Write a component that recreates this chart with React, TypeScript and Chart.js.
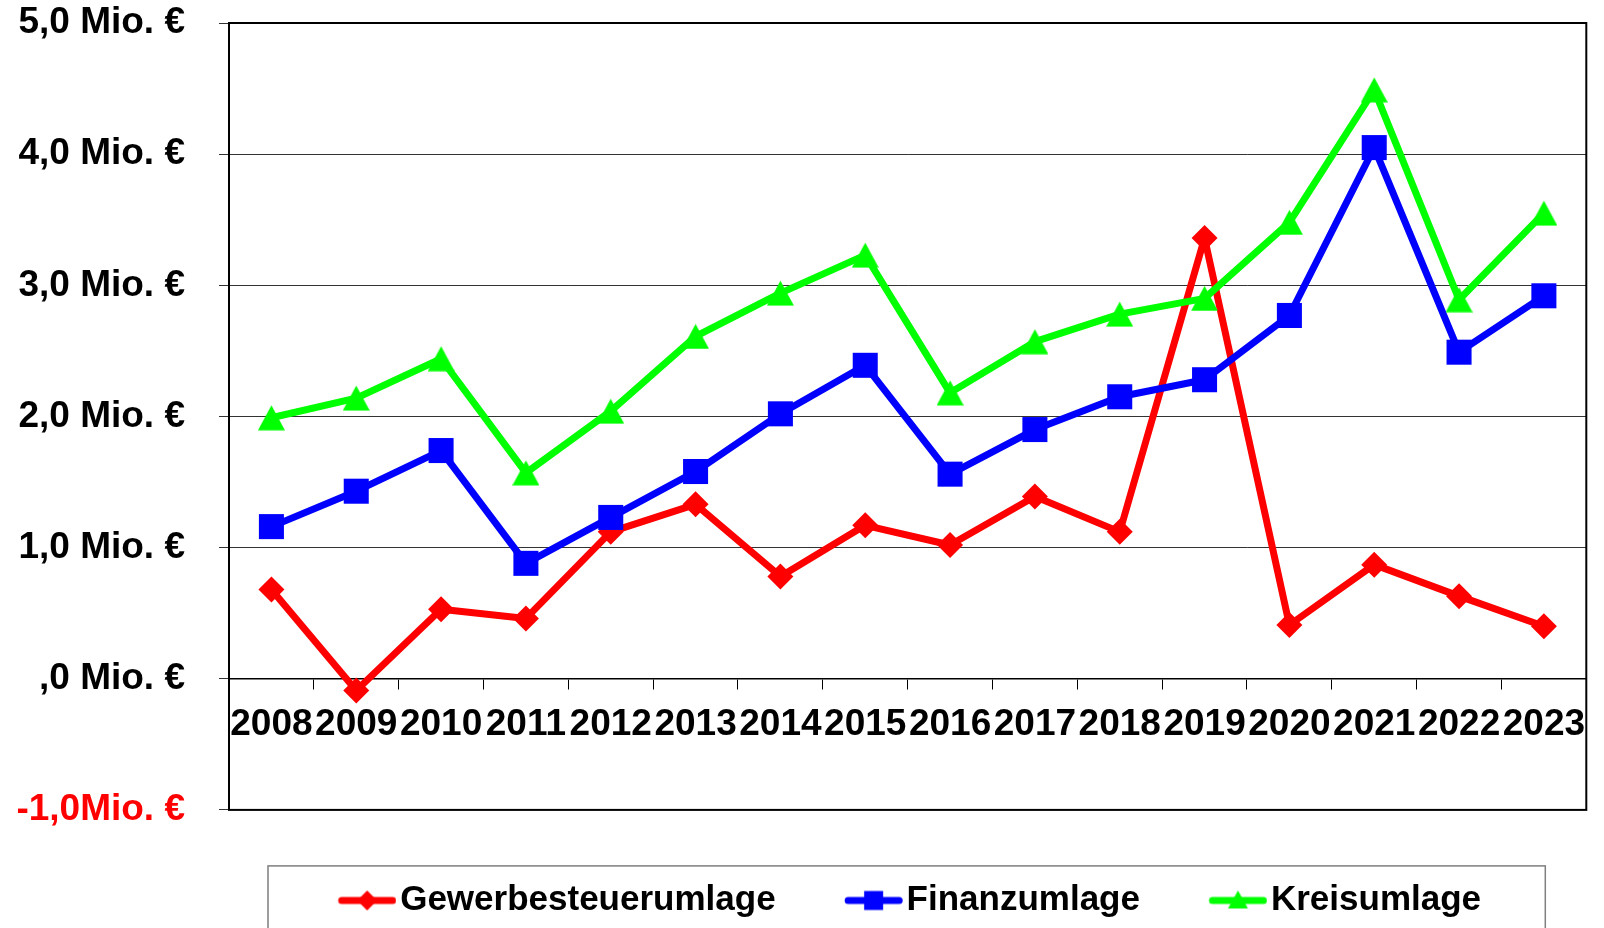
import React, { useEffect, useRef } from 'react';
import { Chart, registerables } from 'chart.js';

Chart.register(...registerables);

const FONT = "'Liberation Sans', Arial, sans-serif";
Chart.defaults.font.family = FONT;

const years = ['2008', '2009', '2010', '2011', '2012', '2013', '2014', '2015', '2016', '2017', '2018', '2019', '2020', '2021', '2022', '2023'];
const gewerbesteuerumlage = [0.68, -0.09, 0.53, 0.46, 1.12, 1.33, 0.78, 1.17, 1.02, 1.39, 1.12, 3.36, 0.41, 0.87, 0.63, 0.40];
const finanzumlage = [1.16, 1.43, 1.74, 0.88, 1.23, 1.58, 2.02, 2.39, 1.56, 1.90, 2.15, 2.28, 2.77, 4.05, 2.49, 2.92];
const kreisumlage = [1.99, 2.14, 2.44, 1.57, 2.04, 2.61, 2.94, 3.23, 2.18, 2.57, 2.78, 2.90, 3.48, 4.49, 2.89, 3.55];
const seriesNames = ['Gewerbesteuerumlage', 'Finanzumlage', 'Kreisumlage'];
const seriesColors = ['#FF0000', '#0000FF', '#00FF00'];
const yTickValues = [-1, 0, 1, 2, 3, 4, 5];
const yTickLabels = ['-1,0Mio. €', ',0 Mio. €', '1,0 Mio. €', '2,0 Mio. €', '3,0 Mio. €', '4,0 Mio. €', '5,0 Mio. €'];

function drawMarker(ctx: CanvasRenderingContext2D, kind: string, cx: number, cy: number, s: number) {
  ctx.beginPath();
  if (kind === 'diamond') {
    ctx.moveTo(cx, cy - s);
    ctx.lineTo(cx + s, cy);
    ctx.lineTo(cx, cy + s);
    ctx.lineTo(cx - s, cy);
  } else if (kind === 'square') {
    ctx.rect(cx - s, cy - s, 2 * s, 2 * s);
  } else {
    ctx.moveTo(cx, cy - s);
    ctx.lineTo(cx + s, cy + s * 0.8);
    ctx.lineTo(cx - s, cy + s * 0.8);
  }
  ctx.closePath();
  ctx.fill();
}

function makeLegendSymbol(kind: string, color: string): HTMLCanvasElement {
  const c = document.createElement('canvas');
  c.width = 76;
  c.height = 30;
  const ctx = c.getContext('2d')!;
  ctx.strokeStyle = color;
  ctx.fillStyle = color;
  ctx.lineWidth = 7;
  ctx.lineCap = 'round';
  ctx.beginPath();
  ctx.moveTo(21.2, 15);
  ctx.lineTo(72.2, 15);
  ctx.stroke();
  const size = kind === 'diamond' ? 10 : kind === 'square' ? 9.5 : 10;
  drawMarker(ctx, kind, 46.7, 15, size);
  return c;
}

function makeTriangle(color: string): HTMLCanvasElement {
  const c = document.createElement('canvas');
  c.width = 27;
  c.height = 26;
  const ctx = c.getContext('2d')!;
  ctx.fillStyle = color;
  ctx.beginPath();
  ctx.moveTo(13.5, 0.5);
  ctx.lineTo(27, 25.5);
  ctx.lineTo(0, 25.5);
  ctx.closePath();
  ctx.fill();
  return c;
}

const framePlugin = {
  id: 'frame',
  afterDraw(chart: any) {
    const { ctx, chartArea } = chart;
    ctx.save();
    ctx.strokeStyle = '#000';
    ctx.lineWidth = 2;
    ctx.strokeRect(chartArea.left, chartArea.top, chartArea.right - chartArea.left, chartArea.bottom - chartArea.top);
    ctx.strokeStyle = '#7f7f7f';
    ctx.lineWidth = 1.5;
    ctx.strokeRect(chartArea.left + 39, chartArea.bottom + 56, chartArea.right - chartArea.left - 80, 100);
    ctx.restore();
  },
};

export default function App() {
  const ref = useRef<HTMLCanvasElement>(null);

  useEffect(() => {
    if (!ref.current) return;
    const kinds = ['diamond', 'square', 'triangle'];
    const legendSymbols = kinds.map((k, i) => makeLegendSymbol(k, seriesColors[i]));
    const tri = makeTriangle(seriesColors[2]);
    const seriesData = [gewerbesteuerumlage, finanzumlage, kreisumlage];
    const pointStyles: any[] = ['rectRot', 'rect', tri];
    const pointRadii = [13, 17.7, 13];
    const orders = [3, 2, 1];

    const chart = new Chart(ref.current, {
      type: 'line',
      data: {
        labels: years,
        datasets: seriesNames.map((name, i) => ({
          label: name,
          data: seriesData[i],
          borderColor: seriesColors[i],
          backgroundColor: seriesColors[i],
          borderWidth: 7,
          tension: 0,
          borderJoinStyle: 'round' as const,
          borderCapStyle: 'round' as const,
          pointStyle: pointStyles[i],
          pointRadius: pointRadii[i],
          pointBorderWidth: 0,
          pointBackgroundColor: seriesColors[i],
          pointBorderColor: seriesColors[i],
          order: orders[i],
          clip: false as any,
        })),
      },
      options: {
        responsive: false,
        devicePixelRatio: 1,
        animation: false,
        layout: { padding: { left: 0, top: 23, right: 16, bottom: 0 } },
        scales: {
          x: {
            type: 'category',
            position: { y: 0 } as any,
            offset: true,
            grid: { offset: true, drawOnChartArea: false, drawTicks: true, tickLength: 10, color: '#000', lineWidth: 1 },
            border: { display: true, color: '#000', width: 1.5 },
            ticks: {
              color: '#000',
              font: { family: FONT, size: 37, weight: 'bold' },
              maxRotation: 0,
              minRotation: 0,
              autoSkip: false,
              padding: 14,
            },
          },
          y: {
            min: -1,
            max: 5,
            afterFit: (s: any) => {
              s.width = 229;
              s.paddingTop = 0;
              s.paddingBottom = 0;
            },
            grid: { color: '#333', lineWidth: 1, tickLength: 10, drawTicks: true },
            border: { display: true, color: '#000', width: 2 },
            ticks: {
              stepSize: 1,
              padding: 34,
              font: { family: FONT, size: 37, weight: 'bold' },
              color: (c: any) => (c.tick && c.tick.value === -1 ? '#FF0000' : '#000000'),
              callback: (v: any) => {
                const idx = yTickValues.indexOf(Number(v));
                return idx >= 0 ? yTickLabels[idx] : '';
              },
            },
          },
        },
        plugins: {
          tooltip: { enabled: false },
          legend: {
            position: 'bottom',
            fullSize: false,
            title: { display: true, text: '', padding: 0, font: { size: 8, lineHeight: 1 } },
            labels: {
              usePointStyle: true,
              pointStyleWidth: 48.4,
              padding: 65.1,
              color: '#000',
              font: { family: FONT, size: 35, weight: 'bold' },
              generateLabels: () =>
                seriesNames.map((name, i) => ({
                  text: name,
                  pointStyle: legendSymbols[i] as any,
                  fillStyle: seriesColors[i],
                  strokeStyle: seriesColors[i],
                  lineWidth: 0,
                  hidden: false,
                  datasetIndex: i,
                  fontColor: '#000',
                })),
            },
          },
        },
      },
      plugins: [framePlugin],
    });
    return () => chart.destroy();
  }, []);

  return (
    <div style={{ position: 'fixed', left: 0, top: 0, width: 1604, height: 928, background: '#fff' }}>
      <canvas ref={ref} width={1604} height={928} style={{ display: 'block', width: 1604, height: 928 }} />
    </div>
  );
}
